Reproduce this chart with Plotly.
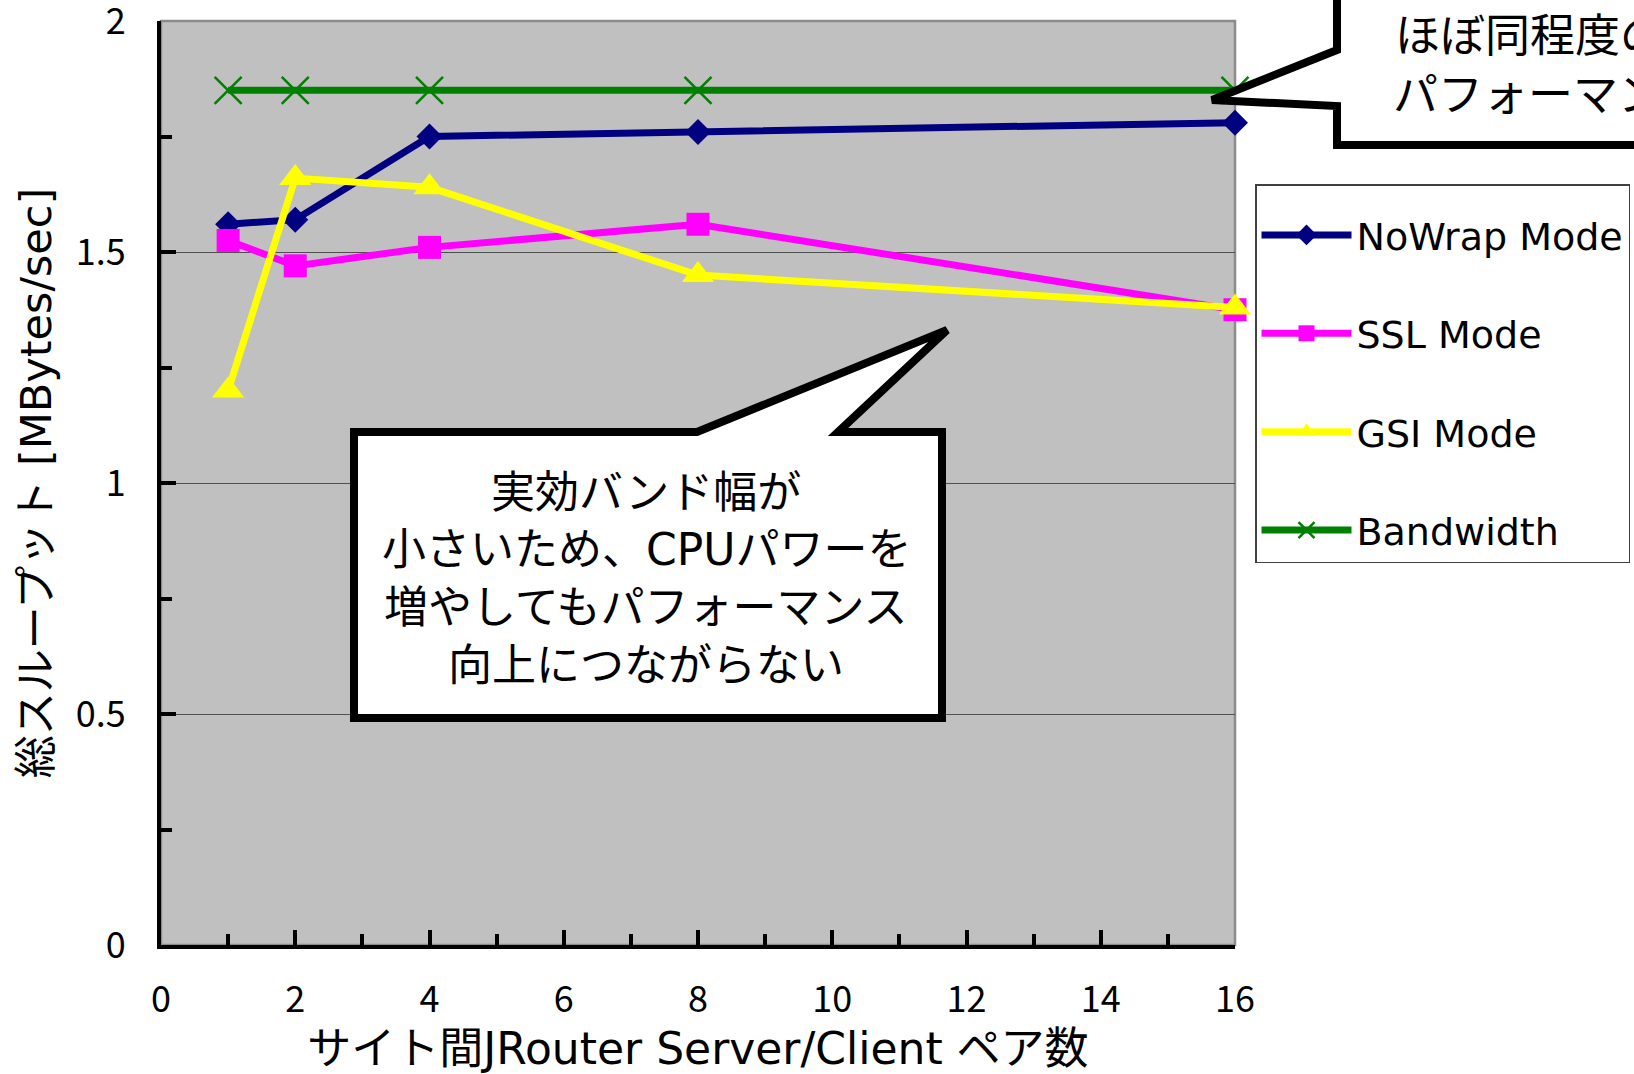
import plotly.graph_objects as go

# Number of JRouter server/client pairs between sites
pairs = [1, 2, 4, 8, 16]

# Aggregate throughput [MBytes/sec]
nowrap_mode = [1.56, 1.57, 1.75, 1.76, 1.78]
ssl_mode = [1.525, 1.47, 1.51, 1.56, 1.375]
gsi_mode = [1.20, 1.66, 1.64, 1.45, 1.38]
bandwidth = [1.85, 1.85, 1.85, 1.85, 1.85]

series_names = ["NoWrap Mode", "SSL Mode", "GSI Mode", "Bandwidth"]

x_ticks = [0, 2, 4, 6, 8, 10, 12, 14, 16]
y_ticks = [0, 0.5, 1, 1.5, 2]
y_tick_labels = ["0", "0.5", "1", "1.5", "2"]

x_title = "サイト間JRouter Server/Client ペア数"
y_title = "総スループット [MBytes/sec]"
note_lines = ["実効バンド幅が", "小さいため、CPUパワーを", "増やしてもパフォーマンス", "向上につながらない"]
top_note_lines = ["ほぼ同程度の", "パフォーマンス"]

W, H = 1634, 1074
L, R, T, B = 161, 1235, 21, 945

FONT = "DejaVu Sans, Noto Sans CJK JP, sans-serif"
TICK_FONT = "Noto Sans CJK JP, sans-serif"


def px(x):
    return (x - L) / (R - L)


def py(y):
    return (B - y) / (B - T)


def path(points):
    pts = " L ".join(f"{px(x):.5f},{py(y):.5f}" for x, y in points)
    return f"M {pts} Z"


fig = go.Figure()

styles = [
    dict(color="#000080", symbol="diamond", size=20, mline=0),
    dict(color="#FF00FF", symbol="square", size=23, mline=0),
    dict(color="#FFFF00", symbol="triangle-up", size=28, mline=0),
    dict(color="#008000", symbol="x-thin-open", size=27, mline=2.5),
]
for name, ys, st in zip(series_names, [nowrap_mode, ssl_mode, gsi_mode, bandwidth], styles):
    fig.add_trace(go.Scatter(
        x=pairs, y=ys, name=name, mode="lines+markers", legendgroup=name,
        line=dict(color=st["color"], width=7),
        marker=dict(symbol=st["symbol"], size=st["size"], color=st["color"],
                    line=dict(color=st["color"], width=st["mline"])),
        cliponaxis=False,
    ))

# gray frame on top/right of the plot area
fig.add_shape(type="rect", xref="paper", yref="paper", x0=0, x1=1, y0=0, y1=1,
              line=dict(color="#8c8c8c", width=2.5), layer="below")

# callout inside the plot
big_box = [(354, 432), (697, 432), (947, 330), (838, 432), (942, 432), (942, 718), (354, 718)]
fig.add_shape(type="path", xref="paper", yref="paper", path=path(big_box),
              fillcolor="white", line=dict(color="black", width=8), layer="above")
line_y = [492, 549, 607, 665]
for txt, yy in zip(note_lines, line_y):
    fig.add_annotation(x=px(646), y=py(yy), xref="paper", yref="paper", text=txt,
                       showarrow=False, xanchor="center", yanchor="middle",
                       font=dict(family=FONT, size=44, color="black"))

# callout at the top right
top_box = [(1337, -30), (1337, 50), (1212, 100), (1337, 106), (1337, 145), (1700, 145), (1700, -30)]
fig.add_shape(type="path", xref="paper", yref="paper", path=path(top_box),
              fillcolor="white", line=dict(color="black", width=8), layer="above")
for txt, xx, yy in zip(top_note_lines, [1393, 1391], [36, 95]):
    fig.add_annotation(x=px(xx), y=py(yy), xref="paper", yref="paper", text=txt,
                       showarrow=False, xanchor="left", yanchor="middle",
                       font=dict(family=FONT, size=45, color="black"))

fig.update_layout(
    width=W, height=H,
    margin=dict(l=L, r=W - R, t=T, b=H - B, autoexpand=False),
    paper_bgcolor="white", plot_bgcolor="#C0C0C0",
    showlegend=True,
    legend=dict(
        x=px(1255), y=py(184), xanchor="left", yanchor="top",
        bgcolor="white", bordercolor="#404040", borderwidth=1.5,
        font=dict(family=FONT, size=38, color="black"),
        title=dict(text=" ", font=dict(family=FONT, size=14)),
        traceorder="grouped", tracegroupgap=46, itemwidth=90,
        entrywidth=330, entrywidthmode="pixels",
    ),
    xaxis=dict(
        range=[0, 16], tickvals=x_ticks, ticks="inside", ticklen=15, tickwidth=4,
        tickcolor="black", showline=True, linecolor="black", linewidth=4,
        showgrid=False, zeroline=False, ticklabelstandoff=20, ticklabeloverflow="allow",
        minor=dict(dtick=1, ticks="inside", ticklen=11, tickwidth=4, tickcolor="black", showgrid=False),
        tickfont=dict(family=TICK_FONT, size=36, color="black"),
        title=dict(text=x_title, font=dict(family=FONT, size=44, color="black"), standoff=26),
    ),
    yaxis=dict(
        range=[0, 2], tickvals=y_ticks, ticktext=y_tick_labels, ticks="inside", ticklen=15,
        tickwidth=4, tickcolor="black", showline=True, linecolor="black", linewidth=4,
        showgrid=True, gridcolor="#505050", gridwidth=1, zeroline=False,
        ticklabelstandoff=24, ticklabeloverflow="allow",
        minor=dict(tickvals=[0.25, 0.75, 1.25, 1.75], ticks="inside", ticklen=11, tickwidth=4,
                   tickcolor="black", showgrid=False),
        tickfont=dict(family=TICK_FONT, size=36, color="black"),
        title=dict(text=y_title, font=dict(family=FONT, size=43, color="black"), standoff=12),
    ),
)

fig.write_html("out.html")
